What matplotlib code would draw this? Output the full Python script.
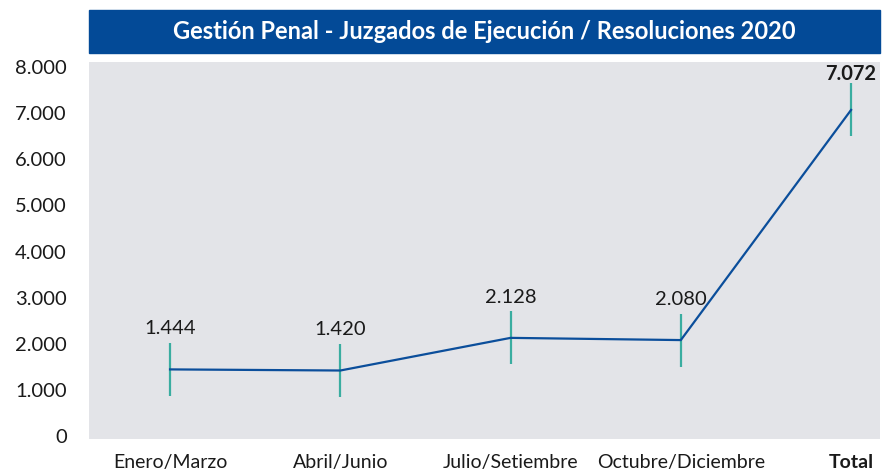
import matplotlib.pyplot as plt
from matplotlib.patches import Rectangle

# data
periodos = ['Enero/Marzo', 'Abril/Junio', 'Julio/Setiembre', 'Octubre/Diciembre', 'Total']
resoluciones = [1444, 1420, 2128, 2080, 7072]
yticks = [0, 1000, 2000, 3000, 4000, 5000, 6000, 7000, 8000]

def miles(v):
    return f'{v:,}'.replace(',', '.')

plt.rcParams['font.family'] = ['Lato', 'DejaVu Sans']

fig = plt.figure(figsize=(8.84, 4.71), dpi=100)
ax = fig.add_axes([0.1007, 0.068, 0.8948, 0.80])
ax.set_facecolor('#e3e4e8')

x = list(range(len(periodos)))
ax.errorbar(x, resoluciones, yerr=575, color='#0b4e9b', lw=1.6,
            ecolor='#3aada0', elinewidth=1.6, capsize=0, zorder=3)

for i, v in enumerate(resoluciones):
    bold = periodos[i] == 'Total'
    ax.text(i, v + (880 if not bold else 790), miles(v), ha='center', va='center',
            fontsize=14.5, color='#1a1a1a', fontweight='bold' if bold else 'normal')

ax.set_xlim(-0.476, 4.17)
ax.set_ylim(-65, 8108)
ax.set_yticks(yticks)
ax.set_yticklabels([miles(t) for t in yticks], fontsize=14.5, color='#1a1a1a')
ax.set_xticks(x)
ax.set_xticklabels(periodos, fontsize=14, color='#1a1a1a')
ax.get_xticklabels()[-1].set_fontweight('bold')
ax.tick_params(length=0)
ax.tick_params(axis='x', pad=11)
ax.tick_params(axis='y', pad=16)
for s in ax.spines.values():
    s.set_visible(False)

# title bar
fig.patches.append(Rectangle((0.1007, 0.887), 0.8948, 0.092, transform=fig.transFigure,
                             color='#034a97', zorder=0))
fig.text(0.1007 + 0.8948 / 2, 0.933, 'Gestión Penal - Juzgados de Ejecución / Resoluciones 2020',
         ha='center', va='center', color='white', fontsize=17, fontweight='bold')

fig.savefig('out.png', dpi=100)
